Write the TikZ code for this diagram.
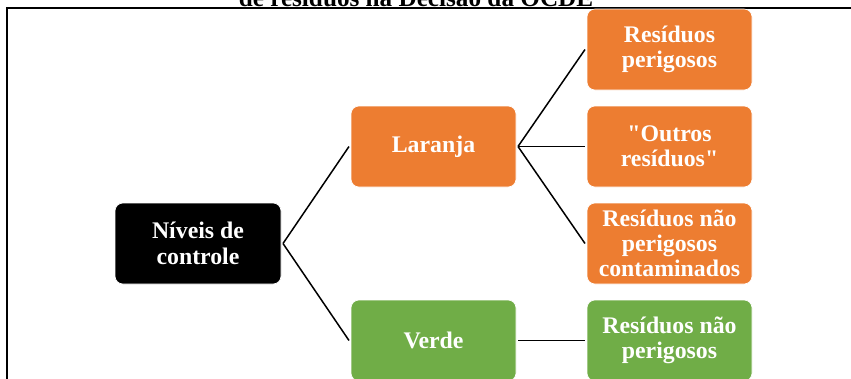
\documentclass[tikz,border=0pt]{standalone}
\usepackage{fontspec}
\setmainfont{Liberation Serif}
\definecolor{orangeO}{HTML}{ED7D31}
\definecolor{greenO}{HTML}{70AD47}
\begin{document}
\begin{tikzpicture}[x=1pt,y=-1pt,
  boxbase/.style={rectangle, rounded corners=8pt, minimum width=165pt, minimum height=81pt,
    text=white, align=center, inner sep=2pt, outer sep=0pt,
    font=\bfseries\fontsize{23.8}{25.5}\selectfont, draw=white, line width=0.6pt},
  orangebox/.style={boxbase, fill=orangeO},
  greenbox/.style={boxbase, fill=greenO},
  blackbox/.style={boxbase, fill=black},
  link/.style={draw=black, line width=1.5pt},
  frameline/.style={draw=black, line width=2pt}]
\useasboundingbox (0,0) rectangle (851,378);
\clip (0,0) rectangle (851,378);
\node[anchor=base, font=\bfseries\fontsize{25.2}{27}\selectfont] (title) at (416,6.5) {de resíduos na Decisão da OCDE};
\draw[frameline] (7,395) -- (7,8) -- (860,8);
\node[blackbox, minimum width=166pt] (niv) at (198,243.5) {Níveis de\\controle};
\node[orangebox] (lar) at (433.5,146.5) {Laranja};
\node[greenbox] (ver) at (433.5,340.5) {Verde};
\node[orangebox] (r1) at (669.5,49.5) {Resíduos\\perigosos};
\node[orangebox] (r2) at (669.5,146.5) {\textquotedbl Outros\\resíduos\textquotedbl};
\node[orangebox, font=\bfseries\fontsize{23.8}{24.8}\selectfont] (r3) at (669.5,243.5) {Resíduos não\\perigosos\\contaminados};
\node[greenbox] (r4) at (669.5,340.5) {Resíduos não\\perigosos};
\draw[link] ([xshift=2pt]niv.east) -- ([xshift=-2pt]lar.west);
\draw[link] ([xshift=2pt]niv.east) -- ([xshift=-2pt]ver.west);
\draw[link] ([xshift=2pt]lar.east) -- ([xshift=-2pt]r1.west);
\draw[link] ([xshift=2pt]lar.east) -- ([xshift=-2pt]r2.west);
\draw[link] ([xshift=2pt]lar.east) -- ([xshift=-2pt]r3.west);
\draw[link] ([xshift=2pt]ver.east) -- ([xshift=-2pt]r4.west);
\end{tikzpicture}
\end{document}
